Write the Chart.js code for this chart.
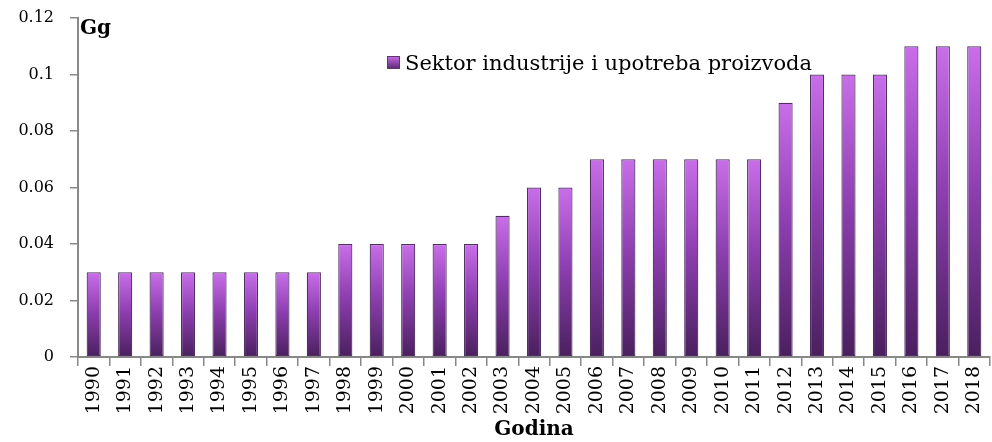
<!DOCTYPE html>
<html>
<head>
<meta charset="utf-8">
<script src="https://cdn.jsdelivr.net/npm/chart.js@4"></script>
<style>
  html, body { margin: 0; padding: 0; background: #fff; }
  #wrap { width: 992px; height: 442px; position: relative; }
</style>
</head>
<body>
<div id="wrap"><canvas id="chart"></canvas></div>
<script>
const years = ['1990', '1991', '1992', '1993', '1994', '1995', '1996', '1997', '1998', '1999',
    '2000', '2001', '2002', '2003', '2004', '2005', '2006', '2007', '2008', '2009',
    '2010', '2011', '2012', '2013', '2014', '2015', '2016', '2017', '2018'];
const industrija = [0.03, 0.03, 0.03, 0.03, 0.03, 0.03, 0.03, 0.03, 0.04, 0.04,
    0.04, 0.04, 0.04, 0.05, 0.06, 0.06, 0.07, 0.07, 0.07, 0.07,
    0.07, 0.07, 0.09, 0.1, 0.1, 0.1, 0.11, 0.11, 0.11];
const seriesLabel = 'Sektor industrije i upotreba proizvoda';
const unitLabel = 'Gg';
const axisTitle = 'Godina';

const serif = "'DejaVu Serif', 'Liberation Serif', serif";

// each bar gets its own gradient, light at the top, dark at the bottom
function barFill(ctx) {
    const chart = ctx.chart;
    const y = chart.scales.y;
    if (!chart.chartArea || !y) return '#8a3cac';
    const top = y.getPixelForValue(ctx.raw);
    const bottom = y.getPixelForValue(0);
    const g = chart.ctx.createLinearGradient(0, top, 0, bottom);
    g.addColorStop(0, '#c96ee9');
    g.addColorStop(0.45, '#8f40b2');
    g.addColorStop(1, '#4a1f5e');
    return g;
}

/* legend + unit label drawn by hand */
const extras = {
    id: 'extras',
    afterDraw(chart) {
        const c = chart.ctx;
        const area = chart.chartArea;
        c.save();
        c.fillStyle = '#000';
        c.font = 'bold 20px ' + serif;
        c.textBaseline = 'top';
        c.fillText(unitLabel, area.left + 2, area.top + 1);

        const lx = 387, ly = 56;
        const g = c.createLinearGradient(0, ly, 0, ly + 13);
        g.addColorStop(0, '#c96ee9');
        g.addColorStop(1, '#5a2674');
        c.fillStyle = g;
        c.fillRect(lx, ly, 13, 13);
        c.strokeStyle = '#5a3a6a';
        c.lineWidth = 1;
        c.strokeRect(lx + 0.5, ly + 0.5, 12, 12);
        c.fillStyle = '#000';
        c.font = '21px ' + serif;
        c.textBaseline = 'alphabetic';
        c.fillText(chart.data.datasets[0].label, lx + 18, ly + 14);
        c.restore();
    }
};

const myChart = new Chart(document.getElementById('chart'), {
    type: 'bar',
    data: {
        labels: years,
        datasets: [{
            label: seriesLabel,
            data: industrija,
            backgroundColor: barFill,
            borderColor: '#4e3060',
            borderWidth: 1.2,
            borderSkipped: false,
            categoryPercentage: 1,
            barPercentage: 0.45
        }]
    },
    options: {
        responsive: true,
        maintainAspectRatio: false,
        animation: false,
        layout: { padding: { top: 18, right: 2, left: 0, bottom: 0 } },
        plugins: {
            legend: { display: false },
            tooltip: { enabled: false }
        },
        scales: {
            x: {
                grid: { drawOnChartArea: false, color: '#888', tickLength: 9, lineWidth: 1.5 },
                border: { color: '#888', width: 2 },
                ticks: {
                    color: '#000',
                    font: { family: serif, size: 19 },
                    minRotation: 90,
                    maxRotation: 90,
                    autoSkip: false,
                    padding: 0
                },
                title: {
                    display: true,
                    text: axisTitle,
                    color: '#000',
                    font: { family: serif, size: 20, weight: 'bold' },
                    padding: { top: 0, bottom: 0 }
                },
                afterFit(scale) {
                    scale.height = 85;
                    scale.paddingLeft = 0;
                    scale.paddingRight = 0;
                }
            },
            y: {
                min: 0,
                max: 0.12,
                grid: { drawOnChartArea: false, color: '#888', tickLength: 8, lineWidth: 1.5 },
                border: { color: '#888', width: 2 },
                ticks: {
                    stepSize: 0.02,
                    color: '#000',
                    font: { family: serif, size: 16 },
                    padding: 16,
                    callback: (v) => String(Math.round(v * 100) / 100)
                },
                afterFit(scale) {
                    scale.width = 78;
                    scale.paddingTop = 0;
                    scale.paddingBottom = 0;
                }
            }
        }
    },
    plugins: [extras]
});
</script>
</body>
</html>
